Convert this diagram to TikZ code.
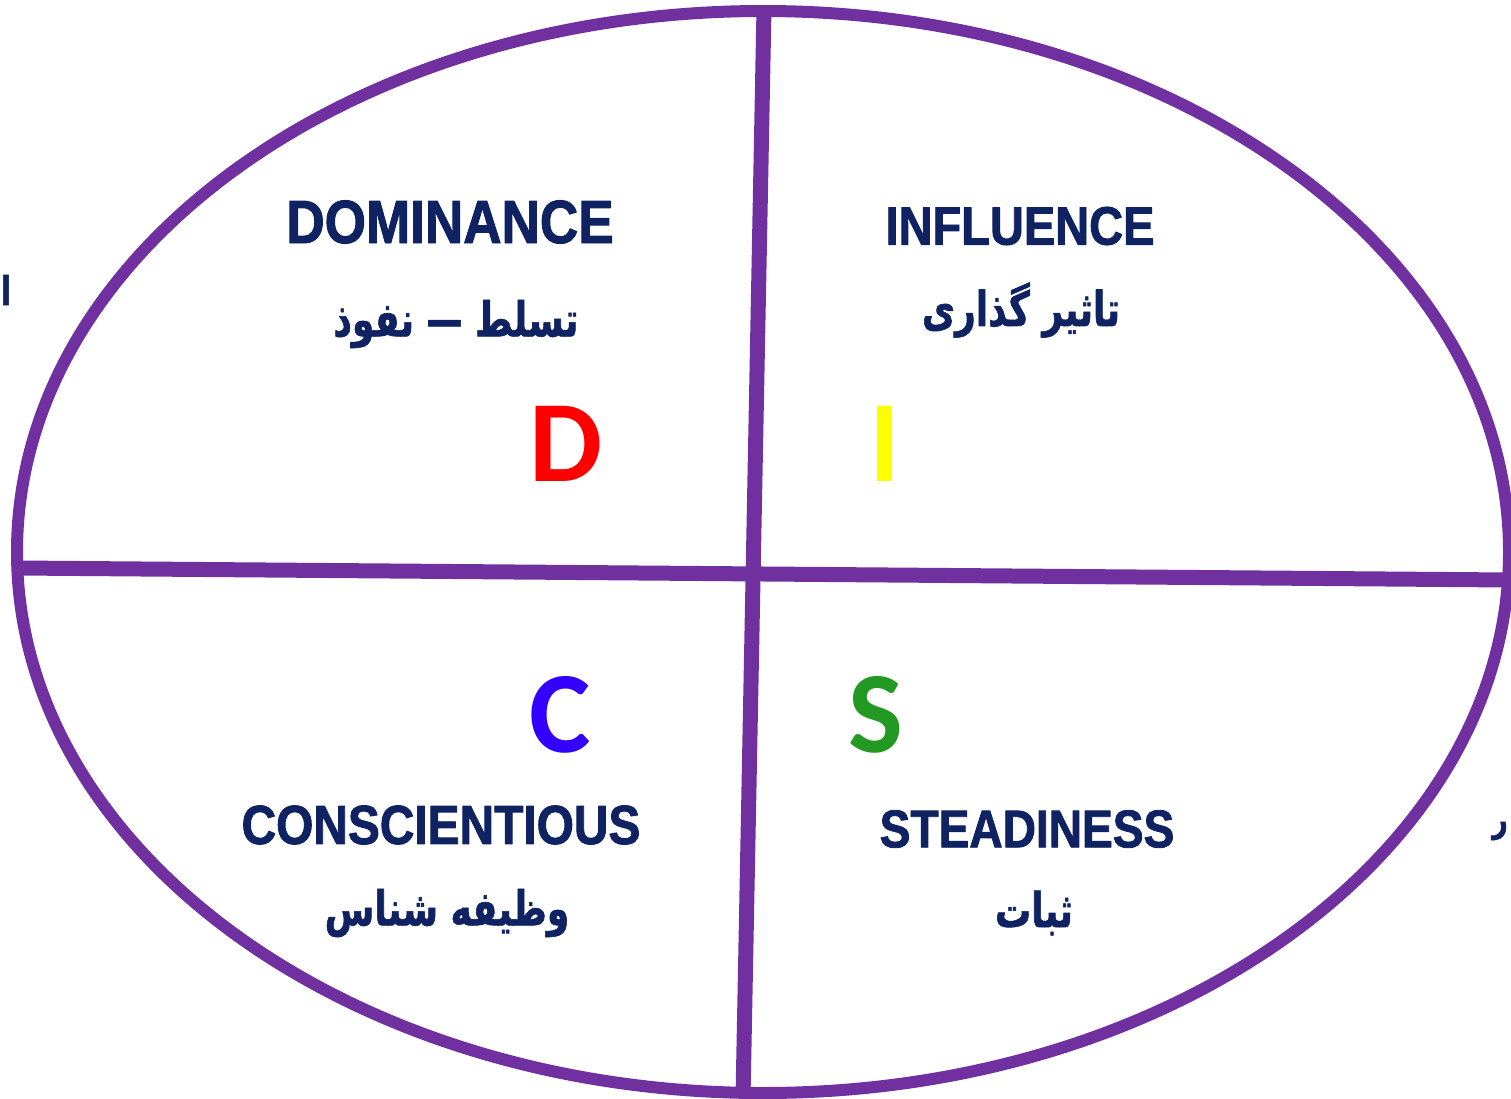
\documentclass[tikz,border=0pt]{standalone}
\usepackage{fontspec}
\usepackage{xcolor}
\setmainfont{Liberation Sans}
\newfontfamily\engfont[FakeStretch=0.87,FakeBold=1.6]{Liberation Sans}
\newfontfamily\letterfont{Carlito}
\newfontfamily\farsifont[Script=Arabic,FakeStretch=0.75,FakeBold=1.2]{DejaVu Sans}
\TeXXeTstate=1
\definecolor{discpurple}{HTML}{7030A0}
\definecolor{discnavy}{HTML}{0F2262}
\definecolor{discred}{HTML}{FF0000}
\definecolor{discyellow}{HTML}{FFFF00}
\definecolor{discblue}{HTML}{3300FF}
\definecolor{discgreen}{HTML}{229922}

\begin{document}
\begin{tikzpicture}
			[line cap=butt,line join=round,x=1pt,y=-1pt,
			ring/.style={line width=12pt,draw=discpurple},
			quad/.style={line width=15pt,draw=discpurple},
			engname/.style={font=\engfont\bfseries\fontsize{#1}{#1}\selectfont,text=discnavy,inner sep=0pt},
			faname/.style={font=\farsifont\bfseries\fontsize{#1}{#1}\selectfont,text=discnavy,inner sep=0pt},
			letter/.style={font=\letterfont\bfseries\fontsize{116}{116}\selectfont,inner sep=0pt}]
			\useasboundingbox (0,0) rectangle (1511,1098);
			\clip (0,0) rectangle (1511,1098);
			\draw [ring] (763,552) ellipse [x radius=746, y radius=541];
			\coordinate (top) at (764,8);
			\coordinate (bottom) at (743,1098);
			\coordinate (left) at (18,568);
			\coordinate (right) at (1511,580);
			\draw [quad] (top) -- (bottom);
			\draw [quad] (left) -- (right);
			\node [engname=61] (dom) at (450,222) {DOMINANCE};
			\node [faname=48] (domfa) at (456,324) {\beginR تسلط — نفوذ\endR};
			\node [engname=54] (inf) at (1020,226) {INFLUENCE};
			\node [faname=48] (inffa) at (1021,310) {\beginR تاثیر گذاری\endR};
			\node [engname=55] (con) at (441,825) {CONSCIENTIOUS};
			\node [faname=48] (confa) at (447,913) {\beginR وظیفه شناس\endR};
			\node [engname=53] (ste) at (1027,829) {STEADINESS};
			\node [faname=48] (stefa) at (1034,913) {\beginR ثبات\endR};
			\node [letter,text=discred] (dletter) at (566,444) {D};
			\node [letter,text=discyellow] (iletter) at (885,444) {I};
			\node [letter,text=discblue] (cletter) at (560,715) {C};
			\node [letter,text=discgreen] (sletter) at (876,715) {S};
			\node [faname=40] (leftbit) at (6,290) {\beginR ا\endR};
			\node [faname=36] (rightbit) at (1500,831) {\beginR ر\endR};
		\end{tikzpicture}
\end{document}
